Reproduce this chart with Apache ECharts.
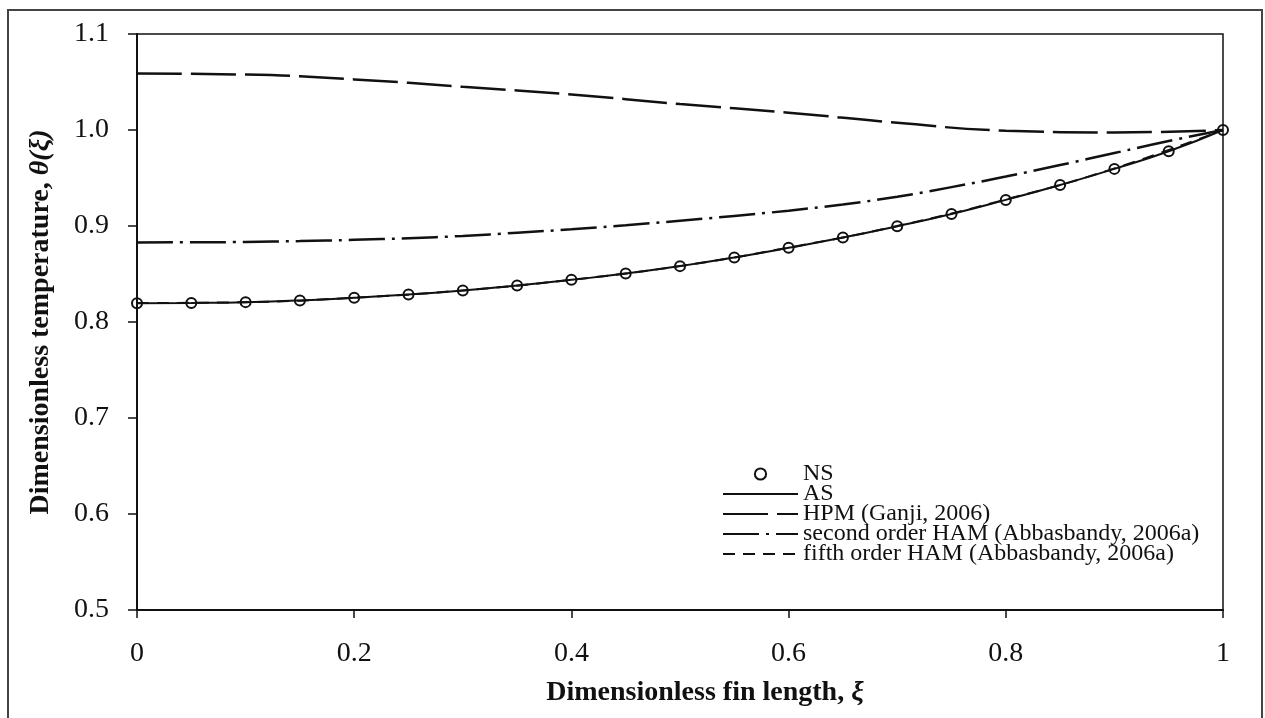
<!DOCTYPE html>
<html>
<head>
<meta charset="utf-8">
<script src="https://cdn.jsdelivr.net/npm/echarts@6/dist/echarts.min.js"></script>
<style>
  html, body { margin: 0; padding: 0; background: #ffffff; }
  #chart { width: 1265px; height: 718px; }
</style>
</head>
<body>
<div id="chart"></div>
<script>
// Dimensionless fin length, fine grid (numerical / analytical solutions)
const xiFine = [0, 0.05, 0.1, 0.15, 0.2, 0.25, 0.3, 0.35, 0.4, 0.45, 0.5,
                0.55, 0.6, 0.65, 0.7, 0.75, 0.8, 0.85, 0.9, 0.95, 1];
// Coarse grid used by the series approximations
const xiCoarse = [0, 0.1, 0.2, 0.3, 0.4, 0.5, 0.6, 0.7, 0.8, 0.9, 1];

// NS: numerical solution
const nsTheta = [0.8196, 0.8199, 0.8207, 0.8225, 0.8252, 0.8286, 0.8328, 0.8380, 0.8439, 0.8504, 0.8582,
                 0.8672, 0.8773, 0.8880, 0.8998, 0.9125, 0.9272, 0.9427, 0.9595, 0.9778, 1.0];
// AS: analytical solution
const asTheta = [0.8196, 0.8199, 0.8207, 0.8225, 0.8252, 0.8286, 0.8328, 0.8380, 0.8439, 0.8504, 0.8582,
                 0.8672, 0.8773, 0.8880, 0.8998, 0.9125, 0.9272, 0.9427, 0.9595, 0.9778, 1.0];
// HPM (Ganji, 2006)
const hpmTheta = [1.0588, 1.0577, 1.0527, 1.0450, 1.0370, 1.0270, 1.0180, 1.0076, 0.9993, 0.9975, 1.0];
// second order HAM (Abbasbandy, 2006a)
const ham2Theta = [0.8829, 0.8830, 0.8834, 0.8843, 0.8856, 0.8873, 0.8897, 0.8930, 0.8966, 0.9008, 0.9055,
                   0.9105, 0.9160, 0.9225, 0.9305, 0.9405, 0.9515, 0.9635, 0.9760, 0.9885, 1.0];
// fifth order HAM (Abbasbandy, 2006a)
const ham5Theta = [0.8197, 0.8207, 0.8253, 0.8329, 0.8440, 0.8583, 0.8775, 0.9000, 0.9276, 0.9600, 1.0];

const yTicks = [0.5, 0.6, 0.7, 0.8, 0.9, 1.0, 1.1];
const xTicks = [0, 0.2, 0.4, 0.6, 0.8, 1];

const seriesNames = [
  'NS',
  'AS',
  'HPM (Ganji, 2006)',
  'second order HAM (Abbasbandy, 2006a)',
  'fifth order HAM (Abbasbandy, 2006a)'
];

const pairs = (xs, ys) => xs.map((x, i) => [x, ys[i]]);

const SERIF = '"Liberation Serif", "Times New Roman", Times, serif';
const INK = '#111111';

const chart = echarts.init(document.getElementById('chart'), null, { renderer: 'canvas' });

chart.setOption({
  backgroundColor: '#ffffff',
  animation: false,
  grid: {
    left: 137, right: 42, top: 34, bottom: 108,
    show: true, borderColor: INK, borderWidth: 1.5, backgroundColor: 'transparent'
  },
  graphic: [{
    type: 'rect',
    silent: true,
    shape: { x: 8, y: 10, width: 1254, height: 730 },
    style: { fill: 'none', stroke: '#444444', lineWidth: 2 }
  }],
  xAxis: {
    type: 'value',
    min: 0, max: 1, interval: 0.2,
    axisLine: { show: true, onZero: false, lineStyle: { color: INK, width: 2 } },
    axisTick: { show: true, inside: false, length: 8, lineStyle: { color: INK, width: 1.5 } },
    splitLine: { show: false },
    axisLabel: {
      margin: 30,
      fontFamily: SERIF, fontSize: 28, color: INK,
      customValues: xTicks,
      formatter: v => String(+v.toFixed(1))
    },
    name: 'Dimensionless fin length, {i|ξ}',
    nameLocation: 'middle',
    nameGap: 69,
    nameTextStyle: {
      fontFamily: SERIF, fontSize: 28, fontWeight: 'bold', color: INK,
      padding: [0, 0, 0, 50],
      rich: { i: { fontFamily: SERIF, fontSize: 28, fontWeight: 'bold', fontStyle: 'italic', color: INK } }
    }
  },
  yAxis: {
    type: 'value',
    min: 0.5, max: 1.1, interval: 0.1,
    axisLine: { show: true, onZero: false, lineStyle: { color: INK, width: 2 } },
    axisTick: { show: true, inside: false, length: 9, lineStyle: { color: INK, width: 1.5 } },
    splitLine: { show: false },
    axisLabel: {
      margin: 28,
      fontFamily: SERIF, fontSize: 28, color: INK,
      formatter: v => yTicks.includes(+v.toFixed(1)) ? v.toFixed(1) : ''
    },
    name: 'Dimensionless temperature, {i|θ(ξ)}',
    nameLocation: 'middle',
    nameGap: 82,
    nameTextStyle: {
      fontFamily: SERIF, fontSize: 28, fontWeight: 'bold', color: INK,
      rich: { i: { fontFamily: SERIF, fontSize: 28, fontWeight: 'bold', fontStyle: 'italic', color: INK } }
    }
  },
  legend: {
    orient: 'vertical',
    left: 722, top: 462,
    padding: 0,
    itemWidth: 75, itemHeight: 14, itemGap: -4,
    textStyle: { fontFamily: SERIF, fontSize: 24, color: INK },
    selectedMode: false,
    data: [
      { name: seriesNames[0], itemStyle: { color: 'transparent', borderColor: INK, borderWidth: 2, opacity: 1 } },
      { name: seriesNames[1], itemStyle: { opacity: 0 } },
      { name: seriesNames[2], itemStyle: { opacity: 0 } },
      { name: seriesNames[3], itemStyle: { opacity: 0 } },
      { name: seriesNames[4], itemStyle: { opacity: 0 } }
    ]
  },
  series: [
    {
      name: seriesNames[1], type: 'line', smooth: true, symbol: 'none',
      data: pairs(xiFine, asTheta),
      lineStyle: { color: INK, width: 2, type: 'solid' }, itemStyle: { color: INK }, z: 3
    },
    {
      name: seriesNames[4], type: 'line', smooth: true, symbol: 'none',
      data: pairs(xiCoarse, ham5Theta),
      lineStyle: { color: INK, width: 2, type: [12, 8] }, itemStyle: { color: INK }, z: 3
    },
    {
      name: seriesNames[2], type: 'line', smooth: true, symbol: 'none',
      data: pairs(xiCoarse, hpmTheta),
      lineStyle: { color: INK, width: 2.5, type: [45, 9] }, itemStyle: { color: INK }, z: 3
    },
    {
      name: seriesNames[3], type: 'line', smooth: true, symbol: 'none',
      data: pairs(xiFine, ham2Theta),
      lineStyle: { color: INK, width: 2.5, type: [36, 7, 3, 7] }, itemStyle: { color: INK }, z: 3
    },
    {
      name: seriesNames[0], type: 'line', symbol: 'circle', symbolSize: 10, showSymbol: true,
      data: pairs(xiFine, nsTheta),
      lineStyle: { width: 0, opacity: 0 },
      itemStyle: { color: 'transparent', borderColor: INK, borderWidth: 2 }, z: 5
    }
  ]
});
</script>
</body>
</html>
